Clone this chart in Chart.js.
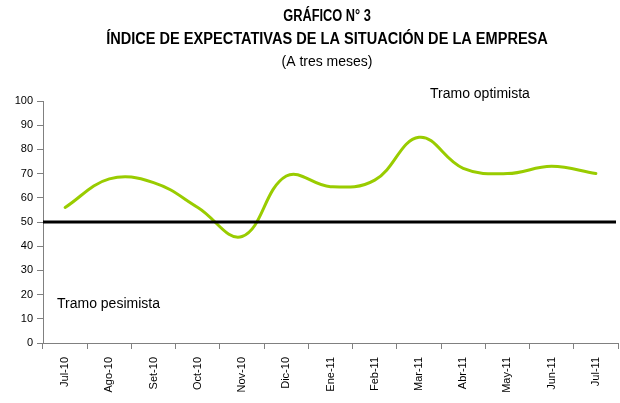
<!DOCTYPE html>
<html>
<head>
<meta charset="utf-8">
<script src="https://cdn.jsdelivr.net/npm/chart.js@4.4.1/dist/chart.umd.min.js"></script>
<style>
  html, body { margin: 0; padding: 0; background: #fff; }
  #wrap { width: 620px; height: 403px; position: relative; }
</style>
</head>
<body>
<div id="wrap"><canvas id="c" width="620" height="403"></canvas></div>
<script>
// ---- Data ----
const categories = ['Jul-10','Ago-10','Set-10','Oct-10','Nov-10','Dic-10','Ene-11','Feb-11','Mar-11','Abr-11','May-11','Jun-11','Jul-11'];
const indexValues = [56, 67.8, 66.3, 56, 44, 69, 64.6, 67.3, 85, 72.2, 70, 73, 70];
const thresholdValue = 50;
const yTicks = [0, 10, 20, 30, 40, 50, 60, 70, 80, 90, 100];
const titleLines = ['GRÁFICO N° 3', 'ÍNDICE DE EXPECTATIVAS DE LA SITUACIÓN DE LA EMPRESA'];
const subtitleText = '(A tres meses)';
const optimistaText = 'Tramo optimista';
const pesimistaText = 'Tramo pesimista';

const FONT = '"Liberation Sans", Arial, sans-serif';

const decorPlugin = {
  id: 'decor',
  afterDatasetsDraw(chart) {
    const ctx = chart.ctx;
    const area = chart.chartArea;
    const y = chart.scales.y;
    const py = y.getPixelForValue(thresholdValue);
    ctx.save();
    ctx.strokeStyle = '#000';
    ctx.lineWidth = 3;
    ctx.beginPath();
    ctx.moveTo(area.left, py);
    ctx.lineTo(area.right - 2, py);
    ctx.stroke();
    ctx.restore();
  },
  afterDraw(chart) {
    const ctx = chart.ctx;
    ctx.save();
    ctx.fillStyle = '#000';
    ctx.textBaseline = 'middle';
    ctx.textAlign = 'center';
    const cx = 327;
    const titleY = [17, 40];
    const titleScale = [0.80, 0.91];
    ctx.font = 'bold 16px ' + FONT;
    titleLines.forEach((t, i) => {
      ctx.save();
      ctx.translate(cx, titleY[i]);
      ctx.scale(titleScale[i], 1);
      ctx.fillText(t, 0, 0);
      ctx.restore();
    });
    ctx.font = '14px ' + FONT;
    ctx.fillText(subtitleText, cx, 62);
    ctx.textAlign = 'left';
    ctx.fillText(optimistaText, 430, 94);
    ctx.fillText(pesimistaText, 57, 304);
    ctx.restore();
  }
};

new Chart(document.getElementById('c'), {
  type: 'line',
  data: {
    labels: categories,
    datasets: [{
      data: indexValues,
      borderColor: '#99cc00',
      borderWidth: 3,
      pointRadius: 0,
      tension: 0.4,
      fill: false,
      borderCapStyle: 'round',
      borderJoinStyle: 'round'
    }]
  },
  options: {
    responsive: false,
    animation: false,
    devicePixelRatio: 1,
    layout: { padding: { top: 101, right: 2, bottom: 0, left: 0 } },
    plugins: {
      legend: { display: false },
      title: { display: false },
      tooltip: { enabled: false }
    },
    scales: {
      x: {
        offset: true,
        afterFit(scale) { scale.height = 60; },
        border: { color: '#808080', width: 1 },
        grid: { display: true, offset: true, drawOnChartArea: false, drawTicks: true, tickLength: 6, color: '#808080' },
        ticks: {
          color: '#000',
          font: { family: FONT, size: 11 },
          minRotation: 90,
          maxRotation: 90,
          padding: 8,
          autoSkip: false
        }
      },
      y: {
        min: 0,
        max: 100,
        afterFit(scale) { scale.width = 43; },
        afterBuildTicks(scale) { scale.ticks = yTicks.map(v => ({ value: v })); },
        border: { color: '#808080', width: 1 },
        grid: { display: true, drawOnChartArea: false, drawTicks: true, tickLength: 6, color: '#808080' },
        ticks: {
          color: '#000',
          font: { family: FONT, size: 11 },
          padding: 4
        }
      }
    }
  },
  plugins: [decorPlugin]
});
</script>
</body>
</html>
